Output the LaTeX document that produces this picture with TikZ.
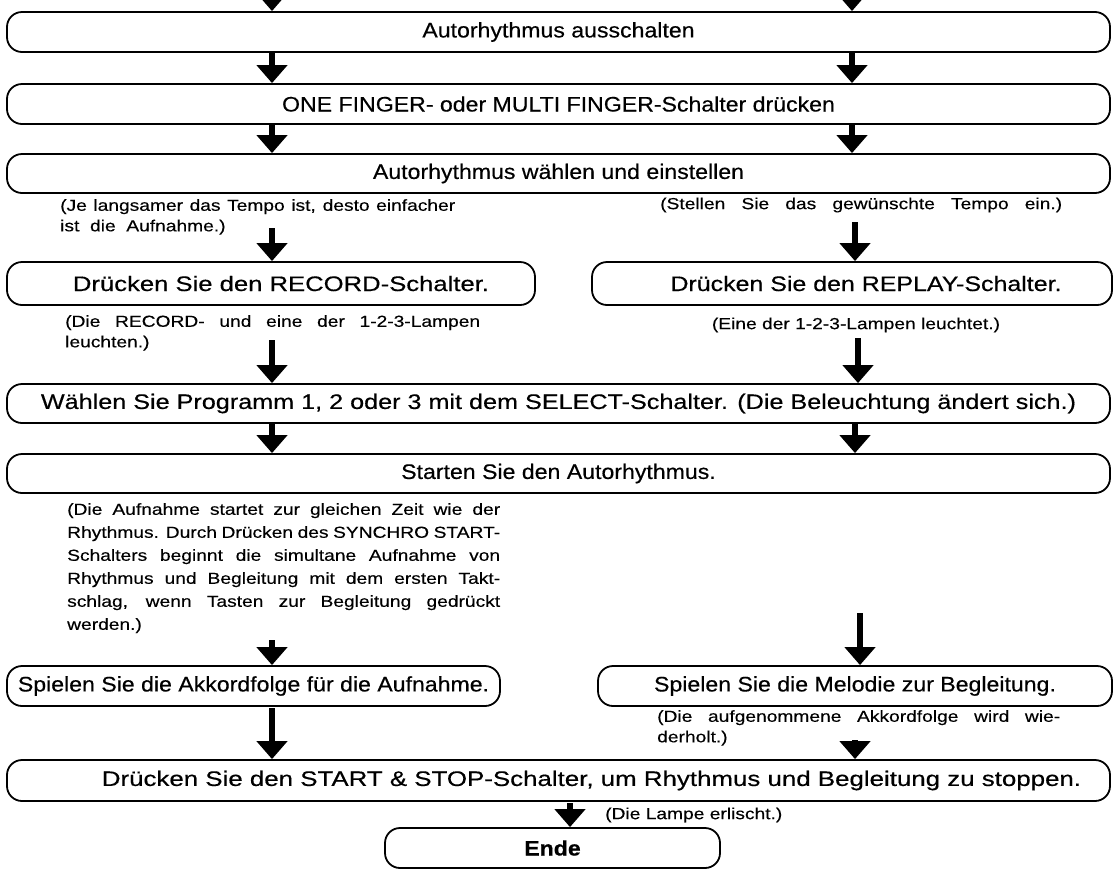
\documentclass[tikz,border=0pt]{standalone}
\usepackage{fontspec}
\setmainfont{Liberation Sans}
\newfontfamily\boxf{Liberation Sans}[FakeStretch=1.1,FakeBold=0.4]
\newfontfamily\notef{Liberation Sans}[FakeStretch=1.2,FakeBold=0.3]
\usetikzlibrary{arrows.meta}
\begin{document}
\begin{tikzpicture}[x=1pt,y=-1pt,
  box/.style={draw, line width=1.8pt, rounded corners=15pt, inner sep=0pt,
    font=\boxf\fontsize{21}{25}\selectfont},
  note/.style={inner sep=0pt, align=left, font=\notef\fontsize{16}{20.5}\selectfont},
  para/.style={inner sep=0pt, align=left, font=\notef\fontsize{16}{23}\selectfont},
  arr/.style={line width=6.5pt, -{Triangle[width=30pt,length=18pt]}}]
\useasboundingbox (0,0) rectangle (1115,871);
\fill[white] (0,0) rectangle (1115,871);
\clip (0,0) rectangle (1115,871);

% boxes
\node[box, minimum width=1103pt, minimum height=40pt] (b1) at (558.5,32) {Autorhythmus ausschalten};
\node[box, minimum width=1103pt, minimum height=40pt] (b2) at (558.5,104) {ONE FINGER- oder MULTI FINGER-Schalter drücken};
\node[box, minimum width=1103pt, minimum height=39pt] (b3) at (558.5,173.5) {Autorhythmus wählen und einstellen};
\node[box, minimum width=528pt, minimum height=43pt] (rec) at (271,283.5) {\hspace*{20pt}\scalebox{1.11}[1]{Drücken Sie den RECORD-Schalter.}};
\node[box, minimum width=520pt, minimum height=43pt] (rep) at (852,283.5) {\hspace*{28pt}\scalebox{1.08}[1]{Drücken Sie den REPLAY-Schalter.}};
\node[box, minimum width=1103pt, minimum height=39pt] (sel) at (558.5,403.5) {\scalebox{1.09}[1]{Wählen Sie Programm 1, 2 oder 3 mit dem SELECT-Schalter. (Die Beleuchtung ändert sich.)}};
\node[box, minimum width=1103pt, minimum height=39pt] (sta) at (558.5,473.5) {Starten Sie den Autorhythmus.};
\node[box, minimum width=493pt, minimum height=40pt] (akk) at (253.5,686) {Spielen Sie die Akkordfolge für die Aufnahme.};
\node[box, minimum width=514pt, minimum height=40pt] (mel) at (855,686) {Spielen Sie die Melodie zur Begleitung.};
\node[box, minimum width=1103pt, minimum height=41pt] (stop) at (558.5,780.5) {\hspace*{66pt}\scalebox{1.12}[1]{Drücken Sie den START \& STOP-Schalter, um Rhythmus und Begleitung zu stoppen.}};
\node[box, minimum width=335pt, minimum height=40pt] (ende) at (552.5,848) {\bfseries Ende};

% notes
\node[note, anchor=north west] (n1l) at (60,199) {\makebox[395pt][s]{(Je langsamer das Tempo ist, desto einfacher}\\ist\ \ die\ \ Aufnahme.)};
\node[note, anchor=west] (n1r) at (660,205) {\makebox[402pt][s]{(Stellen Sie das gewünschte Tempo ein.)}};
\node[note, anchor=north west] (n2l) at (65,315) {\makebox[415pt][s]{(Die RECORD- und eine der 1-2-3-Lampen}\\leuchten.)};
\node[note] (n2r) at (856,325) {(Eine der 1-2-3-Lampen leuchtet.)};
\node[para, anchor=north west] (n3l) at (67,503) {%
\makebox[433pt][s]{(Die Aufnahme startet zur gleichen Zeit wie der}\\
\makebox[433pt][s]{Rhythmus. Durch Drücken des SYNCHRO START-}\\
\makebox[433pt][s]{Schalters beginnt die simultane Aufnahme von}\\
\makebox[433pt][s]{Rhythmus und Begleitung mit dem ersten Takt-}\\
\makebox[433pt][s]{schlag, wenn Tasten zur Begleitung gedrückt}\\
werden.)};
\node[note, anchor=north west] (n4r) at (657,710) {\makebox[403pt][s]{(Die aufgenommene Akkordfolge wird wie-}\\derholt.)};
\node[note, anchor=west] (n5) at (605,815) {(Die Lampe erlischt.)};

% arrow start coordinates
\coordinate (t0l) at (272,-20);
\coordinate (t0r) at (852,-20);
\coordinate (a3l) at (272,228);
\coordinate (a3r) at (855,222);
\coordinate (a4l) at (272,340);
\coordinate (a4r) at (858,338);
\coordinate (a6l) at (272,640);
\coordinate (a6r) at (860,613);
\coordinate (a7l) at (272,708);
\coordinate (a7r) at (855,740);
\coordinate (a8) at (570,803);

% arrows
\draw[arr] (t0l) -- (t0l |- b1.north);
\draw[arr] (t0r) -- (t0r |- b1.north);
\draw[arr] (b1.south -| t0l) -- (t0l |- b2.north);
\draw[arr] (b1.south -| t0r) -- (t0r |- b2.north);
\draw[arr] (b2.south -| t0l) -- (t0l |- b3.north);
\draw[arr] (b2.south -| t0r) -- (t0r |- b3.north);
\draw[arr] (a3l) -- (a3l |- rec.north);
\draw[arr] (a3r) -- (a3r |- rep.north);
\draw[arr] (a4l) -- (a4l |- sel.north);
\draw[arr] (a4r) -- (a4r |- sel.north);
\draw[arr] (sel.south -| a4l) -- (a4l |- sta.north);
\draw[arr] (sel.south -| a3r) -- (a3r |- sta.north);
\draw[arr] (a6l) -- (a6l |- akk.north);
\draw[arr] (a6r) -- (a6r |- mel.north);
\draw[arr] (a7l) -- (a7l |- stop.north);
\draw[arr] (a7r) -- (a7r |- stop.north);
\draw[arr] (a8) -- (a8 |- ende.north);
\end{tikzpicture}
\end{document}
